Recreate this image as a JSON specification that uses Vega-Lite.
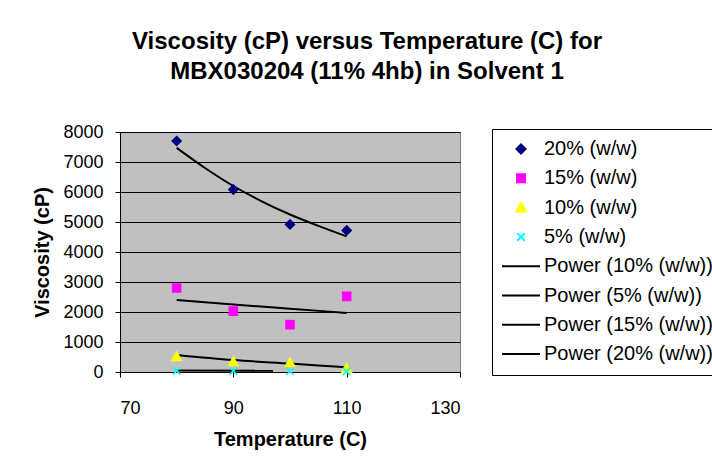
{
  "$schema": "https://vega.github.io/schema/vega-lite/v6.json",
  "width": 340,
  "height": 240,
  "autosize": {"type": "none"},
  "padding": {"left": 120, "top": 132, "right": 252, "bottom": 93},
  "background": "white",
  "title": {
    "text": ["Viscosity (cP) versus Temperature (C) for", "MBX030204 (11% 4hb) in Solvent 1"],
    "font": "Liberation Sans",
    "fontSize": 24,
    "fontWeight": "bold",
    "color": "black",
    "anchor": "middle",
    "frame": "group",
    "dx": 77,
    "lineHeight": 30,
    "offset": 39
  },
  "config": {
    "view": {"fill": "#C0C0C0", "stroke": "#808080", "strokeWidth": 1},
    "axis": {
      "labelFont": "Liberation Sans",
      "titleFont": "Liberation Sans",
      "labelFontSize": 18,
      "titleFontSize": 20,
      "titleFontWeight": "bold",
      "labelColor": "black",
      "titleColor": "black",
      "domainColor": "black",
      "tickColor": "black",
      "tickSize": 5,
      "domainWidth": 1,
      "tickWidth": 1,
      "labelOverlap": false
    },
    "legend": {
      "labelFont": "Liberation Sans",
      "labelFontSize": 20,
      "labelColor": "black"
    }
  },
  "datasets": {
    "points": [
      {"series": "20% (w/w)", "temp": 80, "visc": 7700},
      {"series": "20% (w/w)", "temp": 90, "visc": 6080},
      {"series": "20% (w/w)", "temp": 100, "visc": 4920},
      {"series": "20% (w/w)", "temp": 110, "visc": 4720},
      {"series": "15% (w/w)", "temp": 80, "visc": 2800},
      {"series": "15% (w/w)", "temp": 90, "visc": 2030},
      {"series": "15% (w/w)", "temp": 100, "visc": 1580},
      {"series": "15% (w/w)", "temp": 110, "visc": 2520},
      {"series": "10% (w/w)", "temp": 80, "visc": 510},
      {"series": "10% (w/w)", "temp": 90, "visc": 340},
      {"series": "10% (w/w)", "temp": 100, "visc": 310},
      {"series": "10% (w/w)", "temp": 110, "visc": 120},
      {"series": "5% (w/w)", "temp": 80, "visc": 40},
      {"series": "5% (w/w)", "temp": 90, "visc": 30},
      {"series": "5% (w/w)", "temp": 100, "visc": 25},
      {"series": "5% (w/w)", "temp": 110, "visc": 20}
    ],
    "trends": [
      {"series": "Power (20% (w/w))", "temp": 80, "visc": 7470},
      {"series": "Power (20% (w/w))", "temp": 85, "visc": 6800},
      {"series": "Power (20% (w/w))", "temp": 90, "visc": 6200},
      {"series": "Power (20% (w/w))", "temp": 95, "visc": 5690},
      {"series": "Power (20% (w/w))", "temp": 100, "visc": 5250},
      {"series": "Power (20% (w/w))", "temp": 105, "visc": 4870},
      {"series": "Power (20% (w/w))", "temp": 110, "visc": 4520},
      {"series": "Power (15% (w/w))", "temp": 80, "visc": 2400},
      {"series": "Power (15% (w/w))", "temp": 90, "visc": 2250},
      {"series": "Power (15% (w/w))", "temp": 100, "visc": 2110},
      {"series": "Power (15% (w/w))", "temp": 110, "visc": 1970},
      {"series": "Power (10% (w/w))", "temp": 80, "visc": 570},
      {"series": "Power (10% (w/w))", "temp": 90, "visc": 400},
      {"series": "Power (10% (w/w))", "temp": 100, "visc": 280},
      {"series": "Power (10% (w/w))", "temp": 110, "visc": 160},
      {"series": "Power (5% (w/w))", "temp": 80, "visc": 50},
      {"series": "Power (5% (w/w))", "temp": 97, "visc": 40}
    ]
  },
  "encoding": {
    "x": {
      "field": "temp", "type": "quantitative",
      "scale": {"domain": [70, 130], "nice": false, "zero": false},
      "axis": {"values": [70, 90, 110, 130], "grid": false, "title": "Temperature (C)", "labelPadding": 22, "titlePadding": 12}
    },
    "y": {
      "field": "visc", "type": "quantitative",
      "scale": {"domain": [0, 8000], "nice": false},
      "axis": {"values": [0, 1000, 2000, 3000, 4000, 5000, 6000, 7000, 8000], "format": "d", "grid": true, "gridColor": "black", "gridWidth": 1, "gridOpacity": 1, "title": "Viscosity (cP)", "labelPadding": 12, "titlePadding": 10}
    }
  },
  "layer": [
    {
      "data": {"name": "trends"},
      "mark": {"type": "line", "color": "black", "strokeWidth": 2, "interpolate": "monotone"},
      "encoding": {
        "detail": {"field": "series"}
      }
    },
    {
      "data": {"name": "points"},
      "mark": {"type": "point", "filled": true, "strokeWidth": 1.5, "opacity": 1, "size": 90},
      "encoding": {
        "shape": {
          "field": "series", "type": "nominal",
          "scale": {
            "domain": ["20% (w/w)", "15% (w/w)", "10% (w/w)", "5% (w/w)", "Power (10% (w/w))", "Power (5% (w/w))", "Power (15% (w/w))", "Power (20% (w/w))"],
            "range": ["M0,-0.95L0.95,0L0,0.95L-0.95,0Z", "M-0.85,-0.85H0.85V0.85H-0.85Z", "M0,-1L1,0.8H-1Z", "M-0.8,-0.8L0.8,0.8M-0.8,0.8L0.8,-0.8", "M-4,0H4", "M-4,0H4", "M-4,0H4", "M-4,0H4"]
          },
          "legend": {
            "title": null,
            "orient": "none",
            "legendX": 372,
            "legendY": -3,
            "strokeColor": "black",
            "fillColor": "white",
            "padding": 10,
            "symbolSize": 90,
            "symbolStrokeWidth": 2,
            "symbolOffset": 9,
            "labelOffset": 13,
            "rowPadding": 9.3,
            "labelLimit": 300
          }
        },
        "fill": {
          "field": "series", "type": "nominal",
          "scale": {
            "domain": ["20% (w/w)", "15% (w/w)", "10% (w/w)", "5% (w/w)", "Power (10% (w/w))", "Power (5% (w/w))", "Power (15% (w/w))", "Power (20% (w/w))"],
            "range": ["#000080", "#FF00FF", "#FFFF00", "#00FFFF", "black", "black", "black", "black"]
          },
          "legend": null
        },
        "stroke": {
          "field": "series", "type": "nominal",
          "scale": {
            "domain": ["20% (w/w)", "15% (w/w)", "10% (w/w)", "5% (w/w)", "Power (10% (w/w))", "Power (5% (w/w))", "Power (15% (w/w))", "Power (20% (w/w))"],
            "range": ["#000080", "#FF00FF", "#FFFF00", "#00FFFF", "black", "black", "black", "black"]
          },
          "legend": null
        }
      }
    }
  ]
}
